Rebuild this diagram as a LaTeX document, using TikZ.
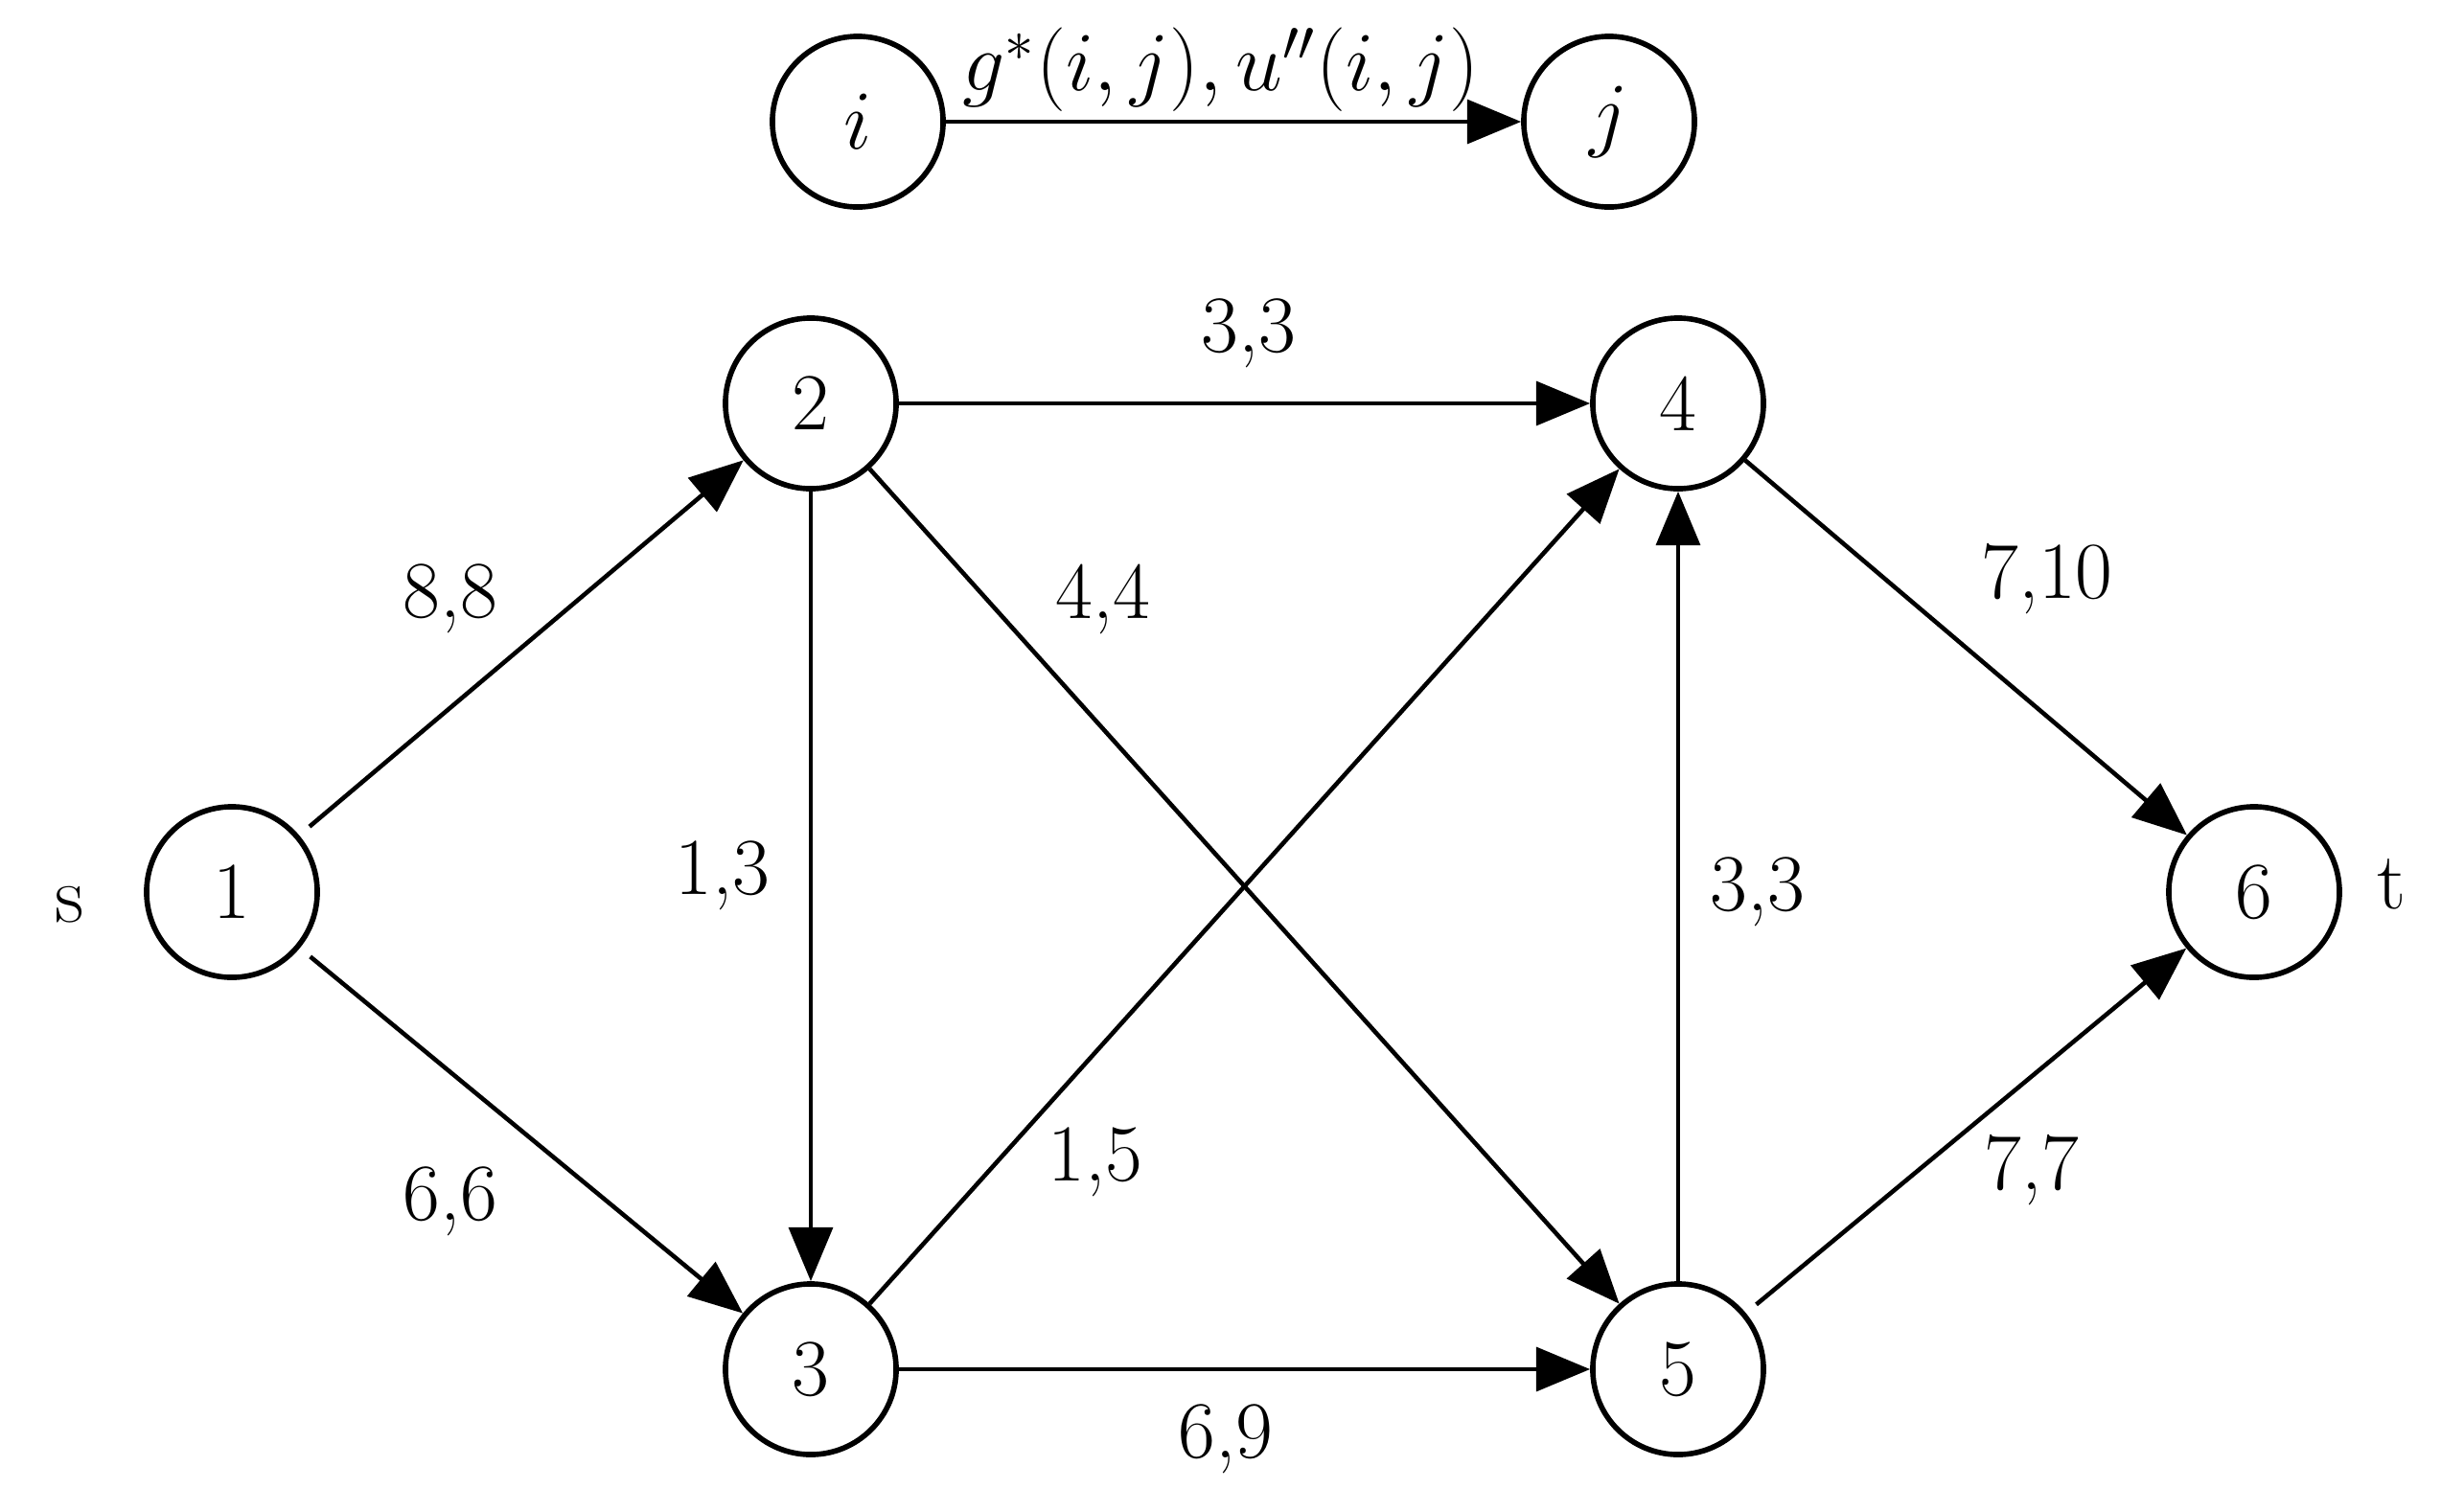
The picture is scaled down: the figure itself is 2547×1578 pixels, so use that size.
\documentclass[tikz,border=0pt]{standalone}
\usetikzlibrary{arrows.meta}
\begin{document}
\begin{tikzpicture}[x=0.01cm,y=-0.01cm,
 nd/.style={circle,draw,line width=1.6pt,minimum size=1.78cm,inner sep=0pt,font=\fontsize{24}{28}\selectfont},
 ed/.style={line width=1.3pt,-{Triangle[length=16pt,width=13pt]}},
 lb/.style={font=\fontsize{24}{28}\selectfont}]
\useasboundingbox (0,0) rectangle (2547,1578);
\node[nd] (i) at (895,127) {$i$};
\node[nd] (j) at (1679,127) {$j$};
\node[nd] (n1) at (242,931) {1};
\node[nd] (n2) at (846,421) {2};
\node[nd] (n3) at (846,1429) {3};
\node[nd] (n4) at (1751,421) {4};
\node[nd] (n5) at (1751,1429) {5};
\node[nd] (n6) at (2352,931) {6};
\node[lb] (s) at (73,944) {s};
\node[lb] (t) at (2495,923) {t};
\draw[ed] (i) -- (j);
\node[lb] (lg) at (1274,73) {$g^{*}(i,j),u''(i,j)$};
\draw[ed,shorten <=4pt] (n1) -- (n2);
\draw[ed,shorten <=4pt] (n1) -- (n3);
\draw[ed] (n2) -- (n4);
\draw[ed] (n2) -- (n3);
\draw[ed] (n2) -- (n5);
\draw[ed] (n3) -- (n4);
\draw[ed] (n3) -- (n5);
\draw[ed] (n5) -- (n4);
\draw[ed] (n4) -- (n6);
\draw[ed,shorten <=4pt] (n5) -- (n6);
\node[lb] (l12) at (470,625) {8,8};
\node[lb] (l13) at (470,1254) {6,6};
\node[lb] (l24) at (1303,348) {3,3};
\node[lb] (l25) at (1151,625) {4,4};
\node[lb] (l23) at (754,914) {1,3};
\node[lb] (l34) at (1143,1213) {1,5};
\node[lb] (l54) at (1834,931) {3,3};
\node[lb] (l46) at (2136,604) {7,10};
\node[lb] (l56) at (2120,1221) {7,7};
\node[lb] (l35) at (1279,1502) {6,9};
\end{tikzpicture}
\end{document}
